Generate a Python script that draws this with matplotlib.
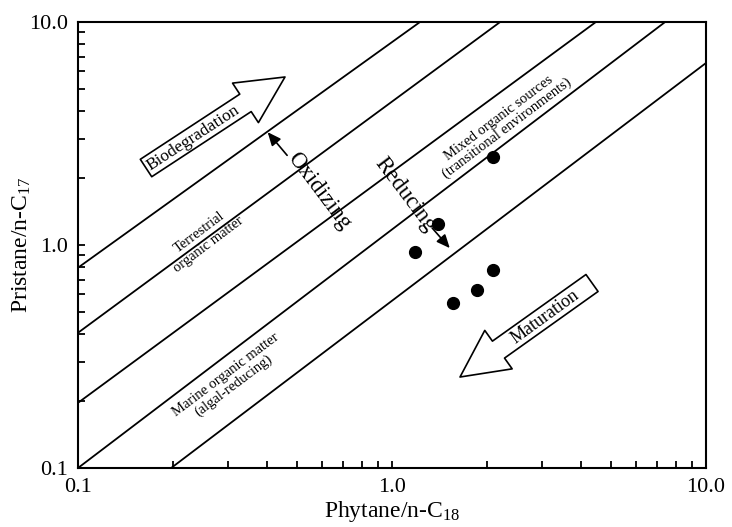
import matplotlib
matplotlib.use("Agg")
import matplotlib.pyplot as plt

plt.rcParams['font.family'] = ['Liberation Serif', 'DejaVu Serif']
plt.rcParams['mathtext.fontset'] = 'custom'
plt.rcParams['mathtext.rm'] = 'Liberation Serif'
plt.rcParams['mathtext.it'] = 'Liberation Serif:italic'

# sample values
phytane = [2.10, 1.40, 1.18, 2.09, 1.86, 1.56]
pristane = [2.49, 1.24, 0.93, 0.77, 0.63, 0.55]

# boundary lines between the source fields, given by their end points
line_x0 = [0.1, 0.1, 0.1, 0.1, 0.198]
line_y0 = [0.791, 0.404, 0.196, 0.1, 0.1]
line_x1 = [1.228, 2.21, 4.46, 7.41, 10.0]
line_y1 = [10.0, 10.0, 10.0, 10.0, 6.55]

ticks = [0.1, 1.0, 10.0]
tick_labels = ['0.1', '1.0', '10.0']

fig = plt.figure(figsize=(7.32, 5.27), dpi=100)
ax = fig.add_axes([78/732, 59/527, 628/732, 446/527])
ax.set_xscale('log')
ax.set_yscale('log')
ax.set_xlim(0.1, 10)
ax.set_ylim(0.1, 10)

for i in range(len(line_x0)):
    ax.plot([line_x0[i], line_x1[i]], [line_y0[i], line_y1[i]], color='black', lw=1.3)

ax.plot(phytane, pristane, 'o', color='black', ms=8.5, zorder=5)

ax.set_xticks(ticks, tick_labels)
ax.set_yticks(ticks, tick_labels)
ax.tick_params(which='both', direction='in', top=False, right=False, labelsize=16, width=1.3)
ax.tick_params(which='major', length=5, pad=7)
ax.tick_params(which='minor', length=5)
for s in ax.spines.values():
    s.set_linewidth(1.5)

ax.set_xlabel('Phytane/n-C$_{18}$', fontsize=17, labelpad=2)
ax.set_ylabel('Pristane/n-C$_{17}$', fontsize=17, labelpad=-3)

# field labels
ax.text(0.201, 0.515, 'Terrestrial\norganic matter', transform=ax.transAxes, fontsize=10.5,
        rotation=37, ha='center', va='center', linespacing=1.25)
ax.text(0.677, 0.773, 'Mixed organic sources\n(transitional environments)', transform=ax.transAxes,
        fontsize=10.5, rotation=37, ha='center', va='center', linespacing=1.0)
ax.text(0.242, 0.197, 'Marine organic matter\n(algal-reducing)', transform=ax.transAxes, fontsize=10.5,
        rotation=37, ha='center', va='center', linespacing=1.0)

# block arrows
block = dict(arrowstyle='simple,head_length=34,head_width=34,tail_width=15',
             mutation_scale=1, fc='white', ec='black', lw=1.2, shrinkA=0, shrinkB=0)
ax.annotate('', xy=(0.3296, 0.8767), xytext=(0.1083, 0.6726),
            xycoords='axes fraction', textcoords='axes fraction', arrowprops=block)
ax.text(0.183, 0.739, 'Biodegradation', transform=ax.transAxes, fontsize=12.5,
        rotation=33, ha='center', va='center')
ax.annotate('', xy=(0.6083, 0.2040), xytext=(0.8185, 0.4148),
            xycoords='axes fraction', textcoords='axes fraction', arrowprops=block)
ax.text(0.744, 0.339, 'Maturation', transform=ax.transAxes, fontsize=13,
        rotation=36, ha='center', va='center')

# redox direction
thin = dict(arrowstyle='-|>,head_length=0.8,head_width=0.35', color='black', lw=1.2,
            shrinkA=0, shrinkB=0)
ax.annotate('', xy=(0.302, 0.753), xytext=(0.333, 0.701),
            xycoords='axes fraction', textcoords='axes fraction', arrowprops=thin)
ax.text(0.384, 0.621, 'Oxidizing', transform=ax.transAxes, fontsize=16.5,
        rotation=-53, ha='center', va='center')
ax.annotate('', xy=(0.592, 0.493), xytext=(0.564, 0.538),
            xycoords='axes fraction', textcoords='axes fraction', arrowprops=thin)
ax.text(0.521, 0.614, 'Reducing', transform=ax.transAxes, fontsize=16.5,
        rotation=-53, ha='center', va='center')

fig.savefig('out.png', dpi=100)
